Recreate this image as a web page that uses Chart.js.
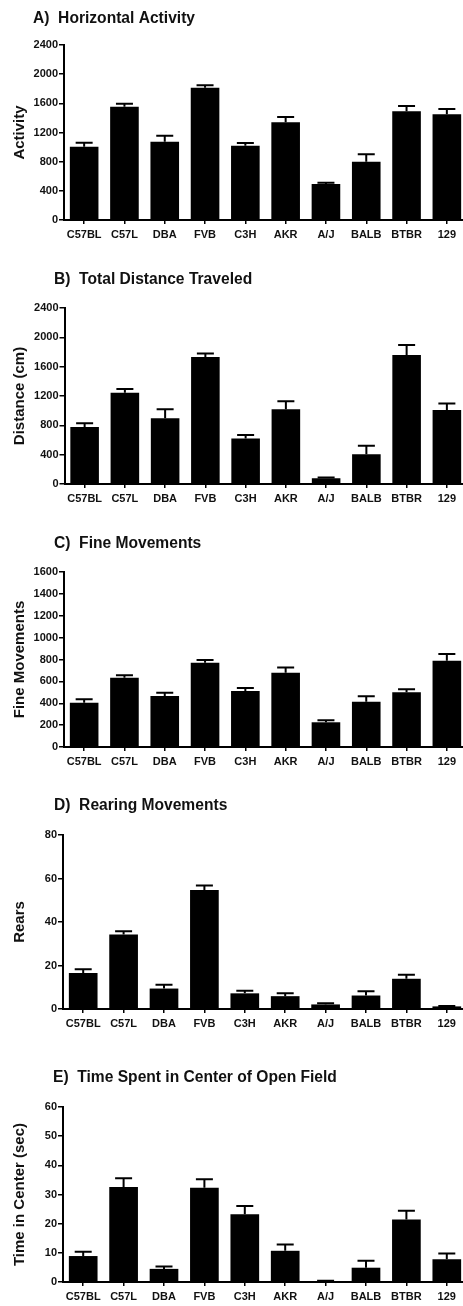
<!DOCTYPE html>
<html>
<head>
<meta charset="utf-8">
<script src="https://cdn.jsdelivr.net/npm/chart.js@4/dist/chart.umd.min.js"></script>
<style>
  html, body { margin: 0; padding: 0; background: #fff; }
  body { position: relative; width: 463px; height: 1306px; overflow: hidden; }
  canvas { position: absolute; left: 0; }
</style>
</head>
<body>
<canvas id="panelA"></canvas>
<canvas id="panelB"></canvas>
<canvas id="panelC"></canvas>
<canvas id="panelD"></canvas>
<canvas id="panelE"></canvas>
<script>
// Mouse strains in the open field test
const strains = ['C57BL', 'C57L', 'DBA', 'FVB', 'C3H', 'AKR', 'A/J', 'BALB', 'BTBR', '129'];

// A) Horizontal activity (mean, SEM)
const activityMean = [1005, 1554, 1074, 1815, 1019, 1339, 494, 800, 1490, 1449];
const activitySem  = [55, 41, 83, 32, 37, 74, 18, 101, 73, 73];
const activityTicks = [0, 400, 800, 1200, 1600, 2000, 2400];

// B) Total distance traveled, cm
const distanceMean = [777, 1243, 896, 1733, 622, 1019, 78, 407, 1760, 1010];
const distanceSem  = [50, 51, 123, 45, 45, 110, 9, 114, 137, 87];
const distanceTicks = [0, 400, 800, 1200, 1600, 2000, 2400];

// C) Fine movements
const fineMean = [405, 634, 466, 771, 512, 680, 226, 414, 500, 789];
const fineSem  = [31, 21, 30, 24, 27, 48, 18, 49, 27, 61];
const fineTicks = [0, 200, 400, 600, 800, 1000, 1200, 1400, 1600];

// D) Rearing movements
const rearsMean = [16.5, 34.3, 9.4, 54.7, 7.2, 5.9, 2.1, 6.2, 13.9, 1.2];
const rearsSem  = [1.8, 1.5, 1.7, 2.1, 1.2, 1.3, 0.6, 2.0, 1.9, 0.2];
const rearsTicks = [0, 20, 40, 60, 80];

// E) Time spent in the center, sec
const centerMean = [8.9, 32.6, 4.5, 32.3, 23.2, 10.7, 0.35, 4.9, 21.4, 7.8];
const centerSem  = [1.5, 3.0, 0.8, 2.9, 2.9, 2.2, 0.1, 2.4, 3.0, 2.0];
const centerTicks = [0, 10, 20, 30, 40, 50, 60];

const FONT = "'Liberation Sans', Arial, Helvetica, sans-serif";
const INK = '#111';

// Page layout of each panel (page pixels)
const layoutSpec = [
  { id: 'panelA', heading: 'A)  Horizontal Activity', axisTitle: 'Activity',
    mean: activityMean, sem: activitySem, ticks: activityTicks,
    top: 0, headX: 33, headY: 18.5, areaTop: 45, areaBottom: 220, axisX: 64 },
  { id: 'panelB', heading: 'B)  Total Distance Traveled', axisTitle: 'Distance (cm)',
    mean: distanceMean, sem: distanceSem, ticks: distanceTicks,
    top: 260, headX: 54, headY: 280, areaTop: 308, areaBottom: 483.5, axisX: 64.5 },
  { id: 'panelC', heading: 'C)  Fine Movements', axisTitle: 'Fine Movements',
    mean: fineMean, sem: fineSem, ticks: fineTicks,
    top: 520, headX: 54, headY: 543.5, areaTop: 572, areaBottom: 747, axisX: 64 },
  { id: 'panelD', heading: 'D)  Rearing Movements', axisTitle: 'Rears',
    mean: rearsMean, sem: rearsSem, ticks: rearsTicks,
    top: 790, headX: 54, headY: 806, areaTop: 835, areaBottom: 1009, axisX: 63 },
  { id: 'panelE', heading: 'E)  Time Spent in Center of Open Field', axisTitle: 'Time in Center (sec)',
    mean: centerMean, sem: centerSem, ticks: centerTicks,
    top: 1050, headX: 53, headY: 1077.5, areaTop: 1107, areaBottom: 1282, axisX: 63 }
];

const CANVAS_W = 470;      // plot runs slightly past the page edge
const AREA_RIGHT = 467;
const X_AXIS_H = 30;

// Panel heading, left aligned at a fixed position
const headingPlugin = {
  id: 'panelHeading',
  afterDraw(chart, args, opts) {
    const ctx = chart.ctx;
    ctx.save();
    ctx.font = 'bold 15.6px ' + FONT;
    ctx.fillStyle = INK;
    ctx.textAlign = 'left';
    ctx.textBaseline = 'middle';
    ctx.fillText(opts.text, opts.x, opts.y);
    ctx.restore();
  }
};

// SEM whiskers with a cap above each bar
const semPlugin = {
  id: 'semBars',
  afterDatasetsDraw(chart, args, opts) {
    const ctx = chart.ctx;
    const yScale = chart.scales.y;
    const meta = chart.getDatasetMeta(0);
    const values = chart.data.datasets[0].data;
    ctx.save();
    ctx.strokeStyle = '#000';
    ctx.lineWidth = 2;
    meta.data.forEach((bar, i) => {
      const yTop = yScale.getPixelForValue(values[i] + opts.sem[i]);
      ctx.beginPath();
      ctx.moveTo(bar.x, bar.y);
      ctx.lineTo(bar.x, yTop);
      ctx.moveTo(bar.x - 8.5, yTop);
      ctx.lineTo(bar.x + 8.5, yTop);
      ctx.stroke();
    });
    ctx.restore();
  }
};

layoutSpec.forEach(p => {
  const canvas = document.getElementById(p.id);
  const h = Math.round(p.areaBottom - p.top + X_AXIS_H);
  canvas.width = CANVAS_W;
  canvas.height = h;
  canvas.style.width = CANVAS_W + 'px';
  canvas.style.height = h + 'px';
  canvas.style.top = p.top + 'px';

  new Chart(canvas, {
    type: 'bar',
    data: {
      labels: strains,
      datasets: [{
        data: p.mean,
        backgroundColor: '#000',
        borderWidth: 0,
        categoryPercentage: 1,
        barPercentage: 0.71
      }]
    },
    plugins: [headingPlugin, semPlugin],
    options: {
      responsive: false,
      animation: false,
      devicePixelRatio: 1,
      layout: {
        padding: { top: p.areaTop - p.top, right: CANVAS_W - AREA_RIGHT, bottom: 0, left: 0 }
      },
      plugins: {
        legend: { display: false },
        tooltip: { enabled: false },
        title: { display: false },
        panelHeading: { text: p.heading, x: p.headX, y: p.headY - p.top },
        semBars: { sem: p.sem }
      },
      scales: {
        x: {
          type: 'category',
          offset: true,
          border: { display: true, color: '#000', width: 2 },
          grid: { display: true, offset: false, drawOnChartArea: false, drawTicks: true,
                  tickLength: 4, color: '#000', lineWidth: 1.5 },
          ticks: { color: INK, padding: 4, maxRotation: 0, autoSkip: false,
                   font: { family: FONT, size: 11, weight: 'bold' } },
          afterFit(scale) {
            scale.height = X_AXIS_H;
            scale.paddingLeft = 0;
            scale.paddingRight = 0;
          }
        },
        y: {
          min: p.ticks[0],
          max: p.ticks[p.ticks.length - 1],
          border: { display: true, color: '#000', width: 2 },
          grid: { display: true, drawOnChartArea: false, drawTicks: true,
                  tickLength: 5, color: '#000', lineWidth: 1.5 },
          ticks: { color: INK, padding: 1,
                   callback: v => String(v),
                   font: { family: FONT, size: 11, weight: 'bold' } },
          afterBuildTicks(scale) {
            scale.ticks = p.ticks.map(v => ({ value: v }));
          },
          title: {
            display: true,
            text: p.axisTitle,
            color: INK,
            padding: { top: 11, bottom: 0 },
            font: { family: FONT, size: 15, weight: 'bold' }
          },
          afterFit(scale) {
            scale.width = p.axisX;
            scale.paddingTop = 0;
            scale.paddingBottom = 0;
          }
        }
      }
    }
  });
});
</script>
</body>
</html>
